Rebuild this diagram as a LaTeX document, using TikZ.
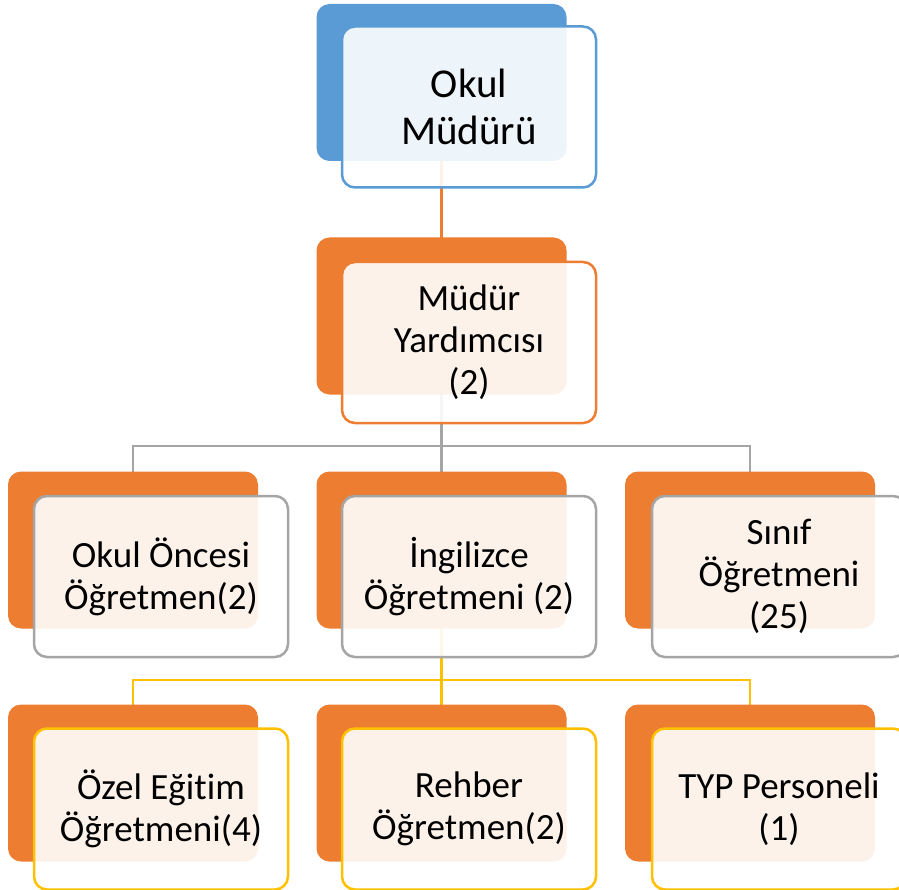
\documentclass[tikz,border=0pt]{standalone}
\usepackage{fontspec}
\setmainfont{Carlito}[Ligatures=NoCommon]
\definecolor{cblue}{HTML}{5B9BD5}
\definecolor{corange}{HTML}{ED7D31}
\definecolor{cgray}{HTML}{A5A5A5}
\definecolor{cyellow}{HTML}{FFC000}
\begin{document}
\begin{tikzpicture}[x=1pt,y=-1pt,
  backbox/.style={rectangle, rounded corners=13pt, minimum width=250pt, minimum height=157pt, inner sep=0pt, outer sep=0pt, fill=#1, draw=none},
  frontbox/.style={rectangle, rounded corners=13pt, minimum width=254pt, minimum height=161pt, inner sep=0pt, outer sep=0pt, fill=white, fill opacity=0.9, text opacity=1, draw=#1, line width=2.5pt, align=center, font=\fontsize{37}{42}\selectfont},
  conn/.style={draw=#1, line width=2.5pt}]
\useasboundingbox (0,0) rectangle (899,890);
\begin{scope}
\clip (0,0) rectangle (899,890);
% coordinates
\coordinate (j1) at (441.5,446);
\coordinate (j2) at (441.5,680);
% back-box centres used by connectors
\path (441.5,82.5) coordinate (cb1) (441.5,316) coordinate (cb2)
      (133,550) coordinate (cb3a) (441.5,550) coordinate (cb3b) (750,550) coordinate (cb3c)
      (133,783) coordinate (cb4a) (441.5,783) coordinate (cb4b) (750,783) coordinate (cb4c);
% connectors
\draw[conn=corange] (cb1) -- (cb2);
\draw[conn=cgray] (cb2) -- (j1) -| (cb3a);
\draw[conn=cgray] (j1) -| (cb3c);
\draw[conn=cgray] (j1) -- (cb3b);
\draw[conn=cyellow] (cb3b) -- (j2) -| (cb4a);
\draw[conn=cyellow] (j2) -| (cb4c);
\draw[conn=cyellow] (j2) -- (cb4b);
% row 1
\node[backbox=cblue] (b1) at (cb1) {};
\node[frontbox=cblue, font=\fontsize{41}{47}\selectfont] (f1) at (469,107) {Okul\\Müdürü};
% row 2
\node[backbox=corange] (b2) at (cb2) {};
\node[frontbox=corange] (f2) at (469,342.5) {Müdür\\Yardımcısı\\(2)};
% row 3
\node[backbox=corange] (b3a) at (cb3a) {};
\node[frontbox=cgray] (f3a) at (161,576.5) {Okul Öncesi\\Öğretmen(2)};
\node[backbox=corange] (b3b) at (cb3b) {};
\node[frontbox=cgray] (f3b) at (469,576.5) {İngilizce\\Öğretmeni (2)};
\node[backbox=corange] (b3c) at (cb3c) {};
\node[frontbox=cgray] (f3c) at (779,576.5) {Sınıf\\Öğretmeni\\(25)};
% row 4
\node[backbox=corange] (b4a) at (cb4a) {};
\node[frontbox=cyellow] (f4a) at (161,809) {Özel Eğitim\\Öğretmeni(4)};
\node[backbox=corange] (b4b) at (cb4b) {};
\node[frontbox=cyellow] (f4b) at (469,809) {Rehber\\Öğretmen(2)};
\node[backbox=corange] (b4c) at (cb4c) {};
\node[frontbox=cyellow] (f4c) at (779,809) {TYP Personeli\\(1)};
\end{scope}
\end{tikzpicture}
\end{document}
